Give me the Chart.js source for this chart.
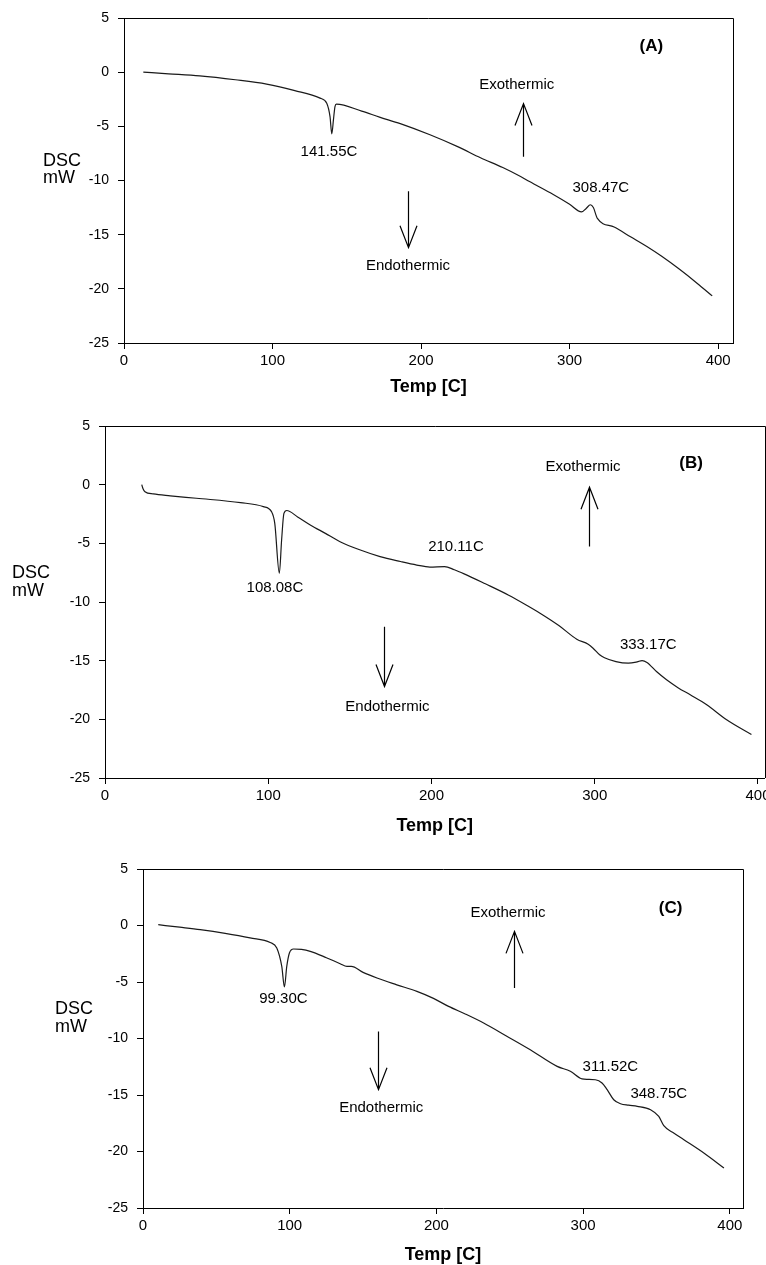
<!doctype html>
<html lang="en">

<head>
    <meta charset="utf-8">
    <title>DSC thermograms</title>
    <style>
        body { margin: 0; background: #fff; }
        .panel { position: absolute; left: 0; }
    </style>
</head>

<body>
    <div class="panel" style="top:0"><canvas id="chartA" width="766" height="405"></canvas></div>
    <div class="panel" style="top:405px"><canvas id="chartB" width="766" height="435"></canvas></div>
    <div class="panel" style="top:840px"><canvas id="chartC" width="766" height="425"></canvas></div>

    <script src="https://cdn.jsdelivr.net/npm/chart.js@4.4.0/dist/chart.umd.min.js"></script>
    <script>
        // values
        const tempA = [13, 30, 51, 75, 96, 115, 132, 136.5, 138.7, 139.9, 141, 142, 143, 160, 172, 186, 206, 225, 240, 255, 267, 273, 289, 300, 308, 311, 314, 316, 318.7, 330, 341, 352, 362, 374, 386, 396];
        const dscA = [0, -0.15, -0.34, -0.7, -1.1, -1.7, -2.4, -2.86, -4.1, -5.7, -4.4, -3.2, -2.95, -3.6, -4.15, -4.75, -5.78, -6.9, -7.9, -8.8, -9.63, -10.1, -11.3, -12.2, -12.9, -12.6, -12.24, -12.5, -13.5, -14.3, -15.2, -16.1, -17.0, -18.2, -19.5, -20.65];

        const tempB = [22.5, 23.3, 24.5, 29.6, 40, 56, 83, 97, 102, 104, 106.8, 108.2, 109.6, 111.3, 118, 126, 135, 144, 156, 168.5, 181, 191, 199, 208, 214, 220, 233, 247, 258, 266.5, 278, 289, 296, 299, 303, 306, 313, 320.6, 326, 329, 332, 338, 344, 351, 358.5, 368.6, 380.8, 396];
        const dscB = [0, -0.35, -0.6, -0.79, -0.95, -1.16, -1.53, -1.87, -2.3, -3.3, -7.55, -4.7, -2.45, -2.2, -2.75, -3.45, -4.15, -4.86, -5.55, -6.13, -6.55, -6.85, -7.02, -6.98, -7.25, -7.6, -8.45, -9.4, -10.25, -10.95, -12.0, -13.17, -13.6, -13.94, -14.5, -14.75, -15.08, -15.21, -15.1, -14.99, -15.15, -15.95, -16.63, -17.3, -17.91, -18.76, -20.04, -21.3];

        const tempC = [10.4, 25, 39, 56, 73, 86.7, 91.2, 94.6, 96.4, 98, 99.8, 102.6, 108, 114, 125, 134.4, 139, 142, 150, 159.5, 173, 186.7, 198, 208.3, 220, 232.2, 248, 264, 282.3, 291.3, 299.3, 303, 308.4, 312.9, 316.4, 320.9, 325.5, 331, 336.9, 346, 351.6, 355, 361, 368.7, 383, 396];
        const dscC = [0.07, -0.15, -0.37, -0.7, -1.1, -1.5, -1.99, -3.62, -5.44, -3.62, -2.43, -2.08, -2.12, -2.29, -2.85, -3.38, -3.62, -3.62, -4.15, -4.65, -5.25, -5.83, -6.45, -7.16, -7.85, -8.63, -9.8, -11.0, -12.47, -12.9, -13.58, -13.62, -13.65, -13.94, -14.53, -15.42, -15.77, -15.9, -16.0, -16.3, -16.9, -17.72, -18.3, -18.96, -20.2, -21.46];

        const xTicks = [0, 100, 200, 300, 400];
        const yMin = -25, yMax = 5, yStep = 5;

        const FONT = "'Liberation Sans', Arial, sans-serif";

        // draws the frame, axis titles, peak labels and the exo/endo arrows
        const annotate = {
            id: 'annotate',
            afterDraw(chart, args, o) {
                const { ctx, chartArea: a, scales: { x, y } } = chart;
                ctx.save();
                ctx.strokeStyle = '#000';
                ctx.lineWidth = 1;
                ctx.beginPath();
                ctx.moveTo(Math.round(a.left), Math.round(a.top) + 0.5);
                ctx.lineTo(Math.round(a.right) + 0.5, Math.round(a.top) + 0.5);
                ctx.lineTo(Math.round(a.right) + 0.5, Math.round(a.bottom));
                ctx.stroke();

                ctx.fillStyle = '#000';
                ctx.textBaseline = 'middle';

                ctx.textAlign = 'left';
                ctx.font = '18px ' + FONT;
                ctx.fillText('DSC', o.yTitle.left, o.yTitle.y1);
                ctx.fillText('mW', o.yTitle.left, o.yTitle.y2);

                ctx.textAlign = 'center';
                ctx.font = 'bold 18px ' + FONT;
                ctx.fillText('Temp [C]', (a.left + a.right) / 2, a.bottom + o.xTitleGap);

                ctx.font = 'bold 17px ' + FONT;
                ctx.fillText(o.tag.text, x.getPixelForValue(o.tag.x), y.getPixelForValue(o.tag.y));

                ctx.font = '15px ' + FONT;
                o.labels.forEach(l => ctx.fillText(l.text, x.getPixelForValue(l.x), y.getPixelForValue(l.y)));

                ctx.lineWidth = 1.2;
                o.arrows.forEach(ar => {
                    const px = Math.round(x.getPixelForValue(ar.x)) + 0.5;
                    const y0 = y.getPixelForValue(ar.from);
                    const y1 = y.getPixelForValue(ar.to);
                    const dir = y1 < y0 ? 1 : -1;
                    ctx.beginPath();
                    ctx.moveTo(px, y0);
                    ctx.lineTo(px, y1);
                    ctx.moveTo(px - 8.5, y1 + dir * 22);
                    ctx.lineTo(px, y1);
                    ctx.lineTo(px + 8.5, y1 + dir * 22);
                    ctx.stroke();
                });
                ctx.restore();
            }
        };

        function makeChart(id, temps, dsc, xMax, box, notes) {
            const axisStyle = {
                grid: { drawOnChartArea: false, color: '#000', tickLength: 6, lineWidth: 1 },
                border: { color: '#000', width: 1 },
            };
            new Chart(document.getElementById(id), {
                type: 'line',
                data: {
                    datasets: [{
                        data: temps.map((t, i) => ({ x: t, y: dsc[i] })),
                        borderColor: '#1a1a1a',
                        borderWidth: 1.2,
                        pointRadius: 0,
                        cubicInterpolationMode: 'monotone',
                        fill: false,
                    }]
                },
                options: {
                    responsive: false,
                    animation: false,
                    events: [],
                    layout: {
                        autoPadding: false,
                        padding: { top: box.top, right: box.right, left: 0, bottom: 0 }
                    },
                    plugins: {
                        legend: { display: false },
                        tooltip: { enabled: false },
                        annotate: notes,
                    },
                    scales: {
                        x: {
                            type: 'linear',
                            min: 0,
                            max: xMax,
                            ...axisStyle,
                            ticks: { stepSize: 100, color: '#000', font: { family: FONT, size: 15 }, padding: 3, maxRotation: 0 },
                            afterBuildTicks: s => { s.ticks = xTicks.map(v => ({ value: v })); },
                            afterFit: s => { s.height = box.xh; s.paddingLeft = 0; s.paddingRight = 0; },
                        },
                        y: {
                            min: yMin,
                            max: yMax,
                            ...axisStyle,
                            ticks: { stepSize: yStep, color: '#000', font: { family: FONT, size: 14 }, padding: 9 },
                            afterFit: s => { s.width = box.yw; s.paddingTop = 0; s.paddingBottom = 0; },
                        }
                    }
                },
                plugins: [annotate]
            });
        }

        makeChart('chartA', tempA, dscA, 410,
            { top: 18, right: 33, xh: 62, yw: 124 },
            {
                yTitle: { left: 43, y1: 161, y2: 178 },
                xTitleGap: 44,
                tag: { text: '(A)', x: 355, y: 2.36 },
                labels: [
                    { text: '141.55C', x: 138, y: -7.32 },
                    { text: '308.47C', x: 321, y: -10.7 },
                    { text: 'Exothermic', x: 264.4, y: -1.17 },
                    { text: 'Endothermic', x: 191.2, y: -17.84 },
                ],
                arrows: [
                    { x: 268.5, from: -7.8, to: -2.9 },
                    { x: 191.4, from: -11.0, to: -16.2 },
                ]
            });

        makeChart('chartB', tempB, dscB, 404,
            { top: 21, right: 1.5, xh: 62, yw: 105 },
            {
                yTitle: { left: 12, y1: 168, y2: 186 },
                xTitleGap: 48,
                tag: { text: '(B)', x: 359, y: 1.82 },
                labels: [
                    { text: '108.08C', x: 104.1, y: -8.83 },
                    { text: '210.11C', x: 215, y: -5.33 },
                    { text: '333.17C', x: 332.8, y: -13.65 },
                    { text: 'Exothermic', x: 292.8, y: 1.48 },
                    { text: 'Endothermic', x: 173, y: -18.9 },
                ],
                arrows: [
                    { x: 296.4, from: -5.28, to: -0.22 },
                    { x: 171.1, from: -12.1, to: -17.2 },
                ]
            });

        makeChart('chartC', tempC, dscC, 409,
            { top: 29, right: 23, xh: 57, yw: 143 },
            {
                yTitle: { left: 55, y1: 169, y2: 187 },
                xTitleGap: 47.5,
                tag: { text: '(C)', x: 359.6, y: 1.55 },
                labels: [
                    { text: '99.30C', x: 95.7, y: -6.5 },
                    { text: '311.52C', x: 318.6, y: -12.47 },
                    { text: '348.75C', x: 351.6, y: -14.9 },
                    { text: 'Exothermic', x: 248.8, y: 1.16 },
                    { text: 'Endothermic', x: 162.4, y: -16.15 },
                ],
                arrows: [
                    { x: 252.7, from: -5.53, to: -0.52 },
                    { x: 160.1, from: -9.37, to: -14.53 },
                ]
            });
    </script>
</body>

</html>
